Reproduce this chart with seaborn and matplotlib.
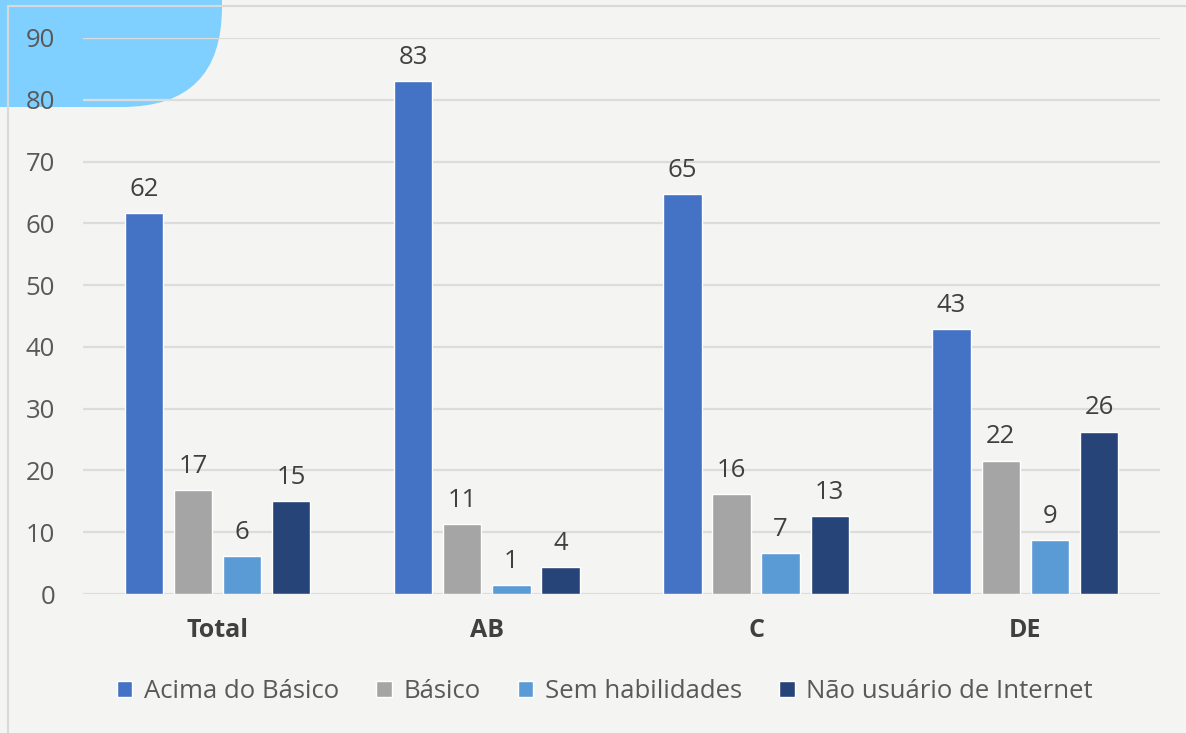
import pandas as pd
import seaborn as sns
import matplotlib.pyplot as plt
from matplotlib.patches import FancyBboxPatch, Rectangle
from matplotlib.lines import Line2D

# categorias e series
categorias = ["Total", "AB", "C", "DE"]
series = ["Acima do Básico", "Básico", "Sem habilidades", "Não usuário de Internet"]
acima = [61.7, 83.0, 64.7, 42.9]
basico = [16.8, 11.3, 16.2, 21.6]
sem_hab = [6.1, 1.4, 6.6, 8.7]
nao_usuario = [15.1, 4.4, 12.6, 26.3]
cores = ["#4472C4", "#A5A5A5", "#5B9BD5", "#264478"]

df = pd.DataFrame({
    "categoria": categorias * 4,
    "serie": [s for s in series for _ in categorias],
    "valor": acima + basico + sem_hab + nao_usuario,
})

sns.set_theme(style="white")
plt.rcParams["font.family"] = ["Open Sans", "DejaVu Sans"]

fundo = "#F4F4F2"
fig = plt.figure(figsize=(11.86, 7.33), dpi=100, facecolor=fundo)

# forma azul no canto superior esquerdo (coordenadas em polegadas)
forma = FancyBboxPatch((-1.5, 6.26), 3.72, 2.5,
                       boxstyle="round,pad=0,rounding_size=1.0",
                       transform=fig.dpi_scale_trans, facecolor="#80D0FF",
                       edgecolor="none", zorder=-5)
fig.patches.append(forma)
# bordas
fig.add_artist(Line2D([0.007, 1.0], [0.992, 0.992], color="#D9D9D9", lw=1.5,
                      transform=fig.transFigure, zorder=-4))
fig.add_artist(Line2D([0.007, 0.007], [0.0, 0.992], color="#D9D9D9", lw=1.5,
                      transform=fig.transFigure, zorder=-4))

ax = fig.add_axes([0.070, 0.1896, 0.908, 0.7586])
ax.set_facecolor("none")

sns.barplot(data=df, x="categoria", y="valor", hue="serie", order=categorias,
            hue_order=series, palette=cores, width=0.73, gap=0.22,
            saturation=1, ax=ax, legend=False, zorder=3)

for cont in ax.containers:
    labels = [f"{round(b.get_height()):d}" for b in cont]
    ax.bar_label(cont, labels=labels, padding=8, fontsize=18.5, color="#404040")

ax.set_ylim(0, 90)
ax.set_xlim(-0.5, 3.5)
ax.set_yticks(range(0, 91, 10))
ax.yaxis.grid(True, color="#DCDCDC", lw=1.6, zorder=0)
ax.set_axisbelow(True)
for s in ax.spines.values():
    s.set_visible(False)
ax.tick_params(axis="y", length=0, pad=20, labelsize=18.5, labelcolor="#595959")
ax.tick_params(axis="x", length=0, pad=17, labelsize=18, labelcolor="#404040")
for t in ax.get_xticklabels():
    t.set_fontweight("bold")
ax.set_xlabel("")
ax.set_ylabel("")

handles = [Rectangle((0, 0), 1, 1, facecolor=c) for c in cores]
fig.legend(handles, series, loc="center", bbox_to_anchor=(0.51, 0.057), ncol=4,
           frameon=False, fontsize=18.5, handlelength=0.6, handleheight=0.6,
           handletextpad=0.45, columnspacing=1.45, labelcolor="#595959")

fig.savefig("out.png", dpi=100, facecolor=fundo)
